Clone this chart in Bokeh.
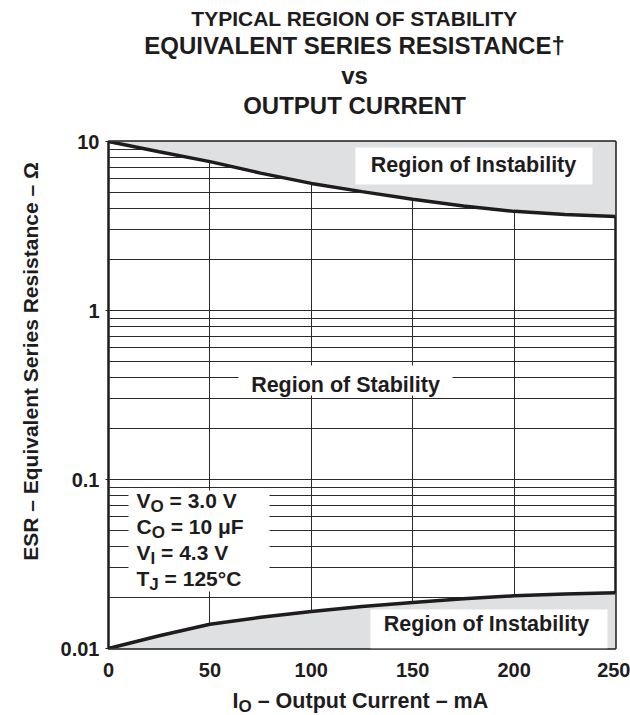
import math
from bokeh.plotting import figure
from bokeh.models import Range1d, FixedTicker, Label
from bokeh.layouts import column, row
from bokeh.embed import file_html
from bokeh.resources import INLINE

# ---------------- data ----------------
current_ma = [0, 25, 50, 75, 100, 125, 150, 175, 200, 225, 250]
esr_upper = [10.0, 8.7, 7.6, 6.5, 5.65, 5.05, 4.55, 4.15, 3.86, 3.7, 3.6]
esr_lower = [0.0100, 0.0119, 0.0139, 0.0153, 0.01655, 0.0177, 0.0187, 0.0197, 0.0205, 0.0210, 0.0214]

x_ticks = [0, 50, 100, 150, 200, 250]
y_ticks = [0.01, 0.1, 1, 10]
y_tick_labels = ["0.01", "0.1", "1", "10"]
y_minor = [m * d for d in (0.01, 0.1, 1) for m in range(2, 10)]

title_lines = ["TYPICAL REGION OF STABILITY", "EQUIVALENT SERIES RESISTANCE†", "vs", "OUTPUT CURRENT"]
region_top = "Region of Instability"
region_mid = "Region of Stability"
region_bot = "Region of Instability"
param_base = ["V", "C", "V", "T"]
param_sub = ["O", "O", "I", "J"]
param_rest = ["= 3.0 V", "= 10 μF", "= 4.3 V", "= 125°C"]
y_label = "ESR – Equivalent Series Resistance – Ω"
x_label_base, x_label_sub, x_label_rest = "I", "O", "– Output Current – mA"

# ---------------- layout helpers ----------------
FONT = "Liberation Sans"
TXT = "#1e1c1d"
FILL = "#dfe0e2"
FL, FB, FT = 108, 648, 141          # frame left / bottom / top in page pixels
PXW = 507                            # frame size in pixels
HEAD_H, MAIN_H, FOOT_H = 121, 564, 30
LEFT_W = 50
BORDER_TOP = FT - HEAD_H
BORDER_BOTTOM = MAIN_H - (FB - HEAD_H)
BASE_FIX = 8                         # measured shift of alphabetic baselines
W = {"V": .667, "C": .722, "T": .611, "I": .278, "O": .778, "J": .556, " ": .278}


def dx(ix):
    return (ix - FL) / PXW * 250


def dy(iy):
    return 10 ** (1 - (iy - FT) / (PXW / 3))


def blank(w, h, top=0, bottom=0):
    f = figure(width=w, height=h, x_axis_type=None, y_axis_type=None, title=None,
               output_backend="svg", toolbar_location=None, min_border=0,
               min_border_top=top, min_border_bottom=bottom,
               x_range=Range1d(0, 1), y_range=Range1d(0, 1))
    f.outline_line_color = None
    f.grid.visible = False
    f.background_fill_color = "white"
    f.border_fill_color = "white"
    return f


def put(fig, text, sx, sy, size, align="left", baseline="alphabetic", angle=0.0):
    if baseline == "alphabetic":
        sy += BASE_FIX
    fig.add_layout(Label(x=sx, y=sy, x_units="screen", y_units="screen", text=text, angle=angle,
                         text_font=FONT, text_font_style="bold", text_font_size=f"{size}px",
                         text_color=TXT, text_align=align, text_baseline=baseline))


def put_sub(fig, base, sub, rest, sx, sy, size, sub_size, drop):
    put(fig, base, sx, sy, size)
    x1 = sx + W[base] * size
    put(fig, sub, x1, sy - drop, sub_size)
    x2 = x1 + W[sub] * sub_size + W[" "] * size
    put(fig, rest, x2, sy, size)


# ---------------- main chart ----------------
p = figure(width=630 - LEFT_W, height=MAIN_H, x_range=Range1d(0, 250), y_range=Range1d(0.01, 10),
           y_axis_type="log", output_backend="svg", toolbar_location=None, title=None,
           min_border_left=FL - LEFT_W, min_border_right=15, min_border_top=BORDER_TOP,
           min_border_bottom=BORDER_BOTTOM)
p.background_fill_color = "white"
p.border_fill_color = "white"
p.outline_line_color = TXT
p.outline_line_width = 2.5

p.xaxis.ticker = FixedTicker(ticks=x_ticks)
p.yaxis.ticker = FixedTicker(ticks=y_ticks, minor_ticks=y_minor)
p.yaxis.major_label_overrides = dict(zip(y_ticks, y_tick_labels))
for ax in (p.xaxis, p.yaxis):
    ax.axis_line_color = None
    ax.minor_tick_line_color = None
    ax.major_label_text_font = FONT
    ax.major_label_text_font_style = "bold"
    ax.major_label_text_font_size = "20px"
    ax.major_label_text_color = TXT
p.xaxis.major_tick_line_color = None
p.xaxis.major_label_standoff = 8
p.yaxis.major_tick_out = 3
p.yaxis.major_tick_in = 0
p.yaxis.major_tick_line_color = TXT
p.yaxis.major_label_standoff = 5

p.xgrid.grid_line_color = "#2a2a2a"
p.xgrid.grid_line_width = 1
p.ygrid.grid_line_color = "#2a2a2a"
p.ygrid.grid_line_width = 1
p.ygrid.minor_grid_line_color = "#2a2a2a"
p.ygrid.minor_grid_line_width = 1

# shaded regions of instability
p.varea(x=current_ma, y1=esr_upper, y2=[y_ticks[-1]] * len(current_ma), fill_color=FILL)
p.varea(x=current_ma, y1=[y_ticks[0]] * len(current_ma), y2=esr_lower, fill_color=FILL)

# white boxes behind the texts
p.quad(left=[dx(355), dx(238), dx(128), dx(370)],
       right=[dx(592), dx(452), dx(269), dx(607)],
       top=[dy(147), dy(365), dy(490), dy(609)],
       bottom=[dy(184), dy(395), dy(591), dy(648)],
       fill_color="white", line_color=None)

# boundary curves
p.line(current_ma, esr_upper, line_color=TXT, line_width=3.5)
p.line(current_ma, esr_lower, line_color=TXT, line_width=3.5)


def in_frame(ix, iy):
    return ix - FL, FB - iy


put(p, region_top, *in_frame(473, 172), 21.5, align="center")
put(p, region_mid, *in_frame(345, 392), 21.5, align="center")
put(p, region_bot, *in_frame(486, 631), 21.5, align="center")
for b, s, r, base_y in zip(param_base, param_sub, param_rest, [508, 534, 560, 586]):
    put_sub(p, b, s, r, *in_frame(136, base_y), 21, 17, 6)

# ---------------- header (title) ----------------
head = blank(630, HEAD_H)
for text, base_y, size in zip(title_lines, [26, 53, 83, 113], [21, 24, 24, 24]):
    put(head, text, 354, HEAD_H - base_y, size, align="center")

# ---------------- left (y label) ----------------
left = blank(LEFT_W, MAIN_H, top=BORDER_TOP, bottom=BORDER_BOTTOM)
put(left, y_label, 30, FB - 361, 21, align="center", baseline="middle", angle=math.pi / 2)

# ---------------- footer (x label) ----------------
foot = blank(630, FOOT_H)
put_sub(foot, x_label_base, x_label_sub, x_label_rest, 232, 715 - 708, 21.5, 17, 6)

layout = column(head, row(left, p), foot)
open("out.html", "w").write(file_html(layout, INLINE))
